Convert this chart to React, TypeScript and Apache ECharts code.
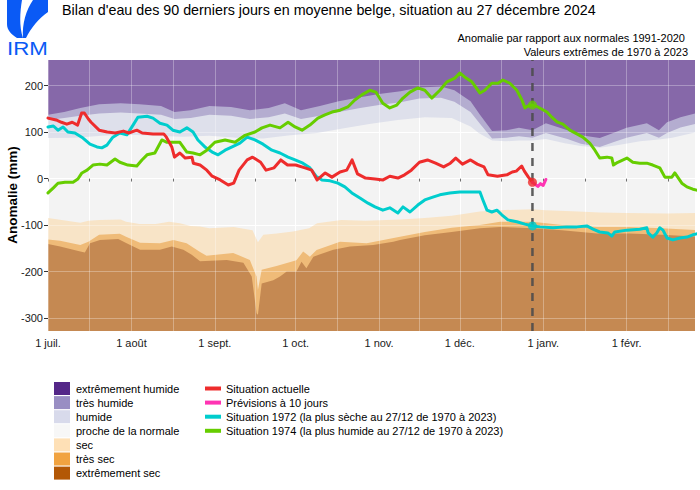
import React, { useEffect, useRef } from "react";
import * as echarts from "echarts";

// ---------- axes ----------
const monthStartDays = [0, 31, 62, 92, 123, 153, 184, 215];
const monthLabels = ["1 juil.", "1 août", "1 sept.", "1 oct.", "1 nov.", "1 déc.", "1 janv.", "1 févr."];
const midMonthDays = [15.5, 46.5, 77, 107.5, 138, 168.5, 199.5, 230.5];
const yTickValues = [-300, -200, -100, 0, 100, 200];
const xMin = 0;
const xMax = 240.4;
const yMin = -328;
const yMax = 255;
const todayDay = 180;

// ---------- climatological bands (limits, mm) ----------
const bandLabels = ["extrêmement humide", "très humide", "humide", "proche de la normale", "sec", "très sec", "extrêmement sec"];
const bandColors = ["#542788", "#998ec3", "#d8daeb", "#f7f7f7", "#fee0b6", "#f1a340", "#b35806"];

const wetLimitDays = [0, 6, 12, 19, 27, 34, 42, 47, 53, 60, 68, 75, 82, 88, 94, 101, 108, 116, 123, 131, 138, 146, 151, 157, 160.5, 165, 170.5, 175, 180, 185, 193, 198, 205, 210, 215, 222.5, 227, 230, 235, 241];
const extremeWetFloor = [137, 143, 152, 160, 162, 160, 156, 143, 147, 156, 154, 147, 152, 162, 147, 156, 166, 175, 182, 188, 196, 198, 190, 166, 137, 102, 104, 109, 104, 119, 104, 93, 87, 98, 109, 119, 104, 121, 132, 141];
const veryWetFloor = [126, 130, 135, 140, 142, 140, 137, 128, 130, 137, 135, 128, 132, 140, 128, 135, 143, 152, 158, 164, 172, 174, 165, 143, 118, 86, 88, 91, 88, 98, 85, 75, 68, 78, 88, 98, 88, 98, 110, 118];

const wetFloorDays = [0, 10, 20, 30, 40, 50, 60, 70, 80, 90, 100, 110, 120, 130, 140, 150, 157, 160, 165, 170, 175, 180, 185, 192, 198, 205, 212, 220, 227, 232, 241];
const wetFloor = [87, 88, 92, 94, 92, 90, 92, 88, 86, 93, 98, 108, 118, 126, 132, 130, 112, 98, 82, 80, 82, 82, 85, 76, 70, 66, 72, 80, 84, 88, 100];

const dryCeilingDays = [0, 7, 12, 15, 19, 27, 29, 34, 40, 45, 49, 53, 56.5, 60, 69, 76, 78, 80, 85, 91, 97, 100, 109, 118, 131, 140, 150, 160.5, 168, 180, 185, 197, 205, 215, 230, 241];
const dryCeiling = [-85, -91, -95, -91, -89, -88, -93, -98, -98, -93, -96, -102, -103, -107, -104, -111, -137, -121, -118, -114, -107, -96, -89, -91, -88, -85, -80, -71, -68, -66, -68, -71, -73, -74, -75, -74];

const veryDryCeilingDays = [0, 4.5, 12, 15, 19, 26.7, 29.2, 34.2, 41.6, 46.6, 51.5, 56.5, 58.9, 68.8, 75, 77.5, 78, 79.4, 84.9, 92.3, 94.8, 97.3, 99.8, 108.5, 118.4, 130.8, 140, 150, 160.5, 168, 180, 191, 204, 216, 228, 241];
const veryDryCeiling = [-131, -134, -143, -136, -121, -119, -126, -138, -139, -132, -139, -158, -166, -160, -175, -211, -240, -196, -188, -176, -157, -168, -154, -136, -139, -125, -115, -106, -100, -93, -93, -100, -104, -104, -107, -111];

const extremeDryCeilingDays = [0, 4.5, 12, 13.7, 15.6, 19.3, 26.1, 29.2, 34.2, 41.6, 46, 50.3, 53.4, 56.5, 66.4, 72.6, 75.7, 77.5, 78, 79.4, 83.7, 86.2, 88.7, 92.3, 94.2, 96, 98.6, 106, 112.2, 120.8, 128.3, 130.8, 140, 150, 160.5, 168, 180, 191, 204, 216, 228, 241];
const extremeDryCeiling = [-141, -146, -157, -159, -139, -132, -130, -139, -153, -153, -146, -153, -164, -178, -175, -181, -211, -290, -293, -226, -219, -211, -200, -200, -179, -193, -168, -153, -146, -143, -136, -132, -122, -115, -107, -104, -107, -111, -118, -118, -121, -125];

// ---------- lines ----------
const lineLabels = ["Situation actuelle", "Prévisions à 10 jours", "Situation 1972 (la plus sèche au 27/12 de 1970 à 2023)", "Situation 1974 (la plus humide au 27/12 de 1970 à 2023)"];
const lineColors = ["#EE2C2C", "#FF34B3", "#00CDCD", "#66CD00"];

const currentDays = [0, 3, 5, 7, 9, 11, 12.5, 13.5, 15, 16, 19, 22, 25, 28, 30, 33, 35, 39, 43, 44, 46, 47, 49, 51, 53.5, 54, 56.5, 59, 61, 64, 67, 69, 71, 74, 76, 79, 81, 84, 86.5, 89, 92, 95.5, 98, 100, 103, 105.5, 108.5, 111, 113, 115, 118, 121.5, 124.5, 127, 130, 132.5, 135, 138, 141, 144, 147, 149.5, 151.5, 154, 157, 159.5, 162, 163.5, 167, 170.5, 172.5, 174, 176, 177, 178.5, 180];
const currentValues = [130, 126, 121, 117, 121, 115, 141, 141, 128, 121, 104, 100, 98, 102, 98, 104, 98, 96, 96, 89, 68, 46, 55, 44, 46, 33, 29, 18, 5, -3, -14, -10, 18, 40, 46, 35, 18, 23, 40, 29, 29, 23, 18, -3, 12, 3, 14, 18, 40, 10, 1, -1, -3, 5, 1, 8, 18, 35, 40, 33, 25, 33, 44, 31, 40, 31, 25, 8, 5, 8, 14, 16, 27, 16, 3, -8];

const forecastDays = [180, 182, 183, 184, 185];
const forecastValues = [-8, -17, -11, -15, -2];

const dry1972Days = [0, 2, 3.7, 5.6, 7.4, 10, 13, 15.6, 18.2, 20, 21.9, 24.1, 26.7, 29.3, 31.6, 33.4, 36.8, 39, 41.6, 44.2, 46.4, 49, 51.6, 53.9, 55.7, 58.3, 61, 63.2, 65.8, 68.4, 71.3, 74, 76.9, 79.9, 83.2, 86.2, 89.2, 91.8, 94.7, 97.3, 99.6, 101.8, 104.8, 107.7, 110.3, 112.9, 115.9, 118.9, 121.5, 124.4, 127, 130, 131.9, 134.5, 137.4, 140, 143, 145.6, 149.3, 153, 156.8, 160.5, 161.6, 163.1, 164.9, 166.8, 168.6, 170.9, 174.2, 177.2, 180, 182.8, 187.6, 192.8, 196.5, 200.2, 202.5, 205, 208, 209.5, 210.6, 215.1, 219.9, 222.5, 223, 224.7, 226.2, 227.3, 228.5, 230, 232.2, 234.8, 237.4, 239.6, 241];
const dry1972Values = [111, 113, 104, 111, 100, 98, 87, 74, 68, 66, 72, 89, 98, 94, 115, 132, 134, 130, 119, 115, 104, 100, 109, 100, 83, 68, 57, 51, 61, 68, 76, 89, 83, 74, 61, 55, 46, 40, 33, 23, 5, -3, -5, -10, -18, -31, -42, -53, -61, -68, -63, -74, -61, -72, -57, -46, -40, -35, -31, -29, -29, -29, -46, -68, -72, -68, -78, -89, -93, -98, -102, -104, -106, -104, -104, -102, -109, -115, -117, -124, -115, -111, -109, -106, -117, -126, -117, -106, -111, -128, -132, -128, -126, -121, -119];

const wet1974Days = [0, 2, 3.7, 6.3, 9.3, 11.1, 12.6, 14.5, 16.7, 19.3, 21.9, 24.9, 26.7, 29.7, 33, 34.9, 36.8, 39.7, 42.3, 44.2, 46.4, 49, 51.6, 53.9, 56.5, 59, 62, 65.8, 69.5, 73.2, 76.9, 79.5, 82.5, 86.2, 89.2, 91.8, 94.4, 97.3, 100.3, 102.9, 105.5, 108.5, 111.4, 114, 116.6, 119.6, 121.8, 124.4, 127, 129.6, 131.9, 134.5, 137.4, 140, 142.6, 145.6, 148.2, 151.2, 153, 154.9, 157.5, 160.5, 162.3, 164.9, 167.2, 169, 171.6, 174.2, 176.1, 177.2, 178.3, 180, 182, 185.4, 187.2, 189.1, 191.3, 193.9, 196.5, 198.7, 201.3, 203.2, 205, 207.7, 209.5, 210.1, 211.7, 215.1, 217.3, 219.9, 222.5, 224.7, 227.3, 229.2, 231.8, 232.9, 235.5, 237.4, 239.6, 241];
const wet1974Values = [-31, -20, -10, -8, -8, -1, 12, 18, 29, 31, 29, 42, 35, 29, 27, 40, 51, 55, 83, 78, 78, 78, 57, 55, 51, 61, 78, 83, 78, 93, 100, 109, 115, 109, 121, 111, 104, 115, 130, 137, 143, 147, 154, 169, 180, 190, 186, 162, 152, 158, 173, 186, 195, 190, 173, 190, 208, 216, 227, 218, 208, 184, 190, 205, 205, 212, 205, 190, 169, 152, 156, 158, 154, 143, 132, 122, 117, 104, 96, 89, 76, 61, 44, 46, 44, 29, 35, 44, 35, 33, 33, 29, 23, 3, 3, 12, -10, -18, -23, -25];

// ---------- texts ----------
const titleText = "Bilan d'eau des 90 derniers jours en moyenne belge, situation au 27 décembre 2024";
const subtitle1 = "Anomalie par rapport aux normales 1991-2020";
const subtitle2 = "Valeurs extrêmes de 1970 à 2023";
const yAxisTitle = "Anomalie (mm)";
const logoText = "IRM";

const FONT = "'Liberation Sans', Arial, Helvetica, sans-serif";
const PANEL = "#ebebeb";
const BAND_ALPHA = 0.67;
const LOGO_BLUE = "#0a5af5";

function blend(hex: string, alpha: number, bg: string): string {
  const p = (h: string) => [1, 3, 5].map((i) => parseInt(h.slice(i, i + 2), 16));
  const a = p(hex);
  const b = p(bg);
  const c = a.map((v, i) => Math.round(v * alpha + b[i] * (1 - alpha)));
  return "#" + c.map((v) => v.toString(16).padStart(2, "0")).join("");
}

const pairs = (d: number[], v: number[]) => d.map((x, i) => [x, v[i]]);
const valueAt = (d: number[], v: number[], day: number) => v[d.indexOf(day)];

export default function App() {
  const ref = useRef<HTMLDivElement>(null);

  useEffect(() => {
    if (!ref.current) return;
    echarts.graphic.registerShape(
      "irmLeft",
      echarts.graphic.extendPath("M0,0 L15,0 C13,12 12,26 16,38 L10,38 C4,34 0,30 0,24 Z", {})
    );
    echarts.graphic.registerShape(
      "irmRight",
      echarts.graphic.extendPath("M26,0 L41,0 L41,12 C32,18 24,28 19,38 L16,38 C15,24 19,10 26,0 Z", {})
    );

    const chart = echarts.init(ref.current, null, { renderer: "svg" });

    const bandFill = bandColors.map((c) => blend(c, BAND_ALPHA, PANEL));
    const bandSeries = (name: string, data: number[][], color: string, origin: "start" | "end", z: number) => ({
      type: "line",
      name,
      data,
      symbol: "none",
      silent: true,
      lineStyle: { width: 0 },
      areaStyle: { color, opacity: 1, origin },
      z,
      xAxisIndex: 0,
      yAxisIndex: 0,
    });

    const lineSeries = (name: string, data: number[][], color: string) => ({
      type: "line",
      name,
      data,
      symbol: "none",
      silent: true,
      lineStyle: { width: 3, color, cap: "round", join: "round" },
      z: 6,
    });

    const dots = [
      { value: [todayDay, valueAt(currentDays, currentValues, todayDay)], itemStyle: { color: lineColors[0] } },
      { value: [todayDay, valueAt(dry1972Days, dry1972Values, todayDay)], itemStyle: { color: lineColors[2] } },
      { value: [todayDay, valueAt(wet1974Days, wet1974Values, todayDay)], itemStyle: { color: lineColors[3] } },
    ];

    const legendGraphics: any[] = [];
    bandLabels.forEach((lab, i) => {
      legendGraphics.push({
        type: "rect",
        shape: { x: 54, y: 382 + i * 14.1, width: 16, height: 13 },
        style: { fill: bandColors[i] },
      });
      legendGraphics.push({
        type: "text",
        x: 76,
        y: 388.5 + i * 14.1,
        style: { text: lab, font: `11px ${FONT}`, fill: "#000", textVerticalAlign: "middle" },
      });
    });
    lineLabels.forEach((lab, i) => {
      legendGraphics.push({
        type: "rect",
        shape: { x: 205, y: 386.5 + i * 14.1, width: 16, height: 4 },
        style: { fill: lineColors[i] },
      });
      legendGraphics.push({
        type: "text",
        x: 226,
        y: 388.5 + i * 14.1,
        style: { text: lab, font: `11px ${FONT}`, fill: "#000", textVerticalAlign: "middle" },
      });
    });

    const gridRect = { left: 48, top: 60, width: 647, height: 271 };
    const xTickAll = [...monthStartDays, ...midMonthDays].sort((a, b) => a - b);

    chart.setOption({
      animation: false,
      backgroundColor: "#ffffff",
      textStyle: { fontFamily: FONT },
      grid: [
        { ...gridRect, show: true, backgroundColor: blend(bandColors[3], BAND_ALPHA, PANEL), borderWidth: 0 },
        { ...gridRect, show: false },
      ],
      xAxis: [
        {
          type: "value",
          gridIndex: 0,
          min: xMin,
          max: xMax,
          axisLine: { show: false },
          axisTick: { show: true, length: 3, customValues: xTickAll, lineStyle: { color: "#333", width: 1 } },
          axisLabel: {
            customValues: monthStartDays,
            formatter: (v: number) => monthLabels[monthStartDays.indexOf(v)] ?? "",
            color: "#1a1a1a",
            fontSize: 11,
            margin: 6,
            fontFamily: FONT,
          },
          splitLine: { show: true, lineStyle: { color: "#ffffff", width: 1 } },
          z: 0,
        },
        {
          type: "value",
          gridIndex: 1,
          min: xMin,
          max: xMax,
          axisLine: { show: false },
          axisTick: { show: false, customValues: xTickAll },
          axisLabel: { show: false },
          splitLine: { show: true, lineStyle: { color: "#ffffff", width: 1, opacity: 0.3 } },
          z: 4,
        },
      ],
      yAxis: [
        {
          type: "value",
          gridIndex: 0,
          min: yMin,
          max: yMax,
          axisLine: { show: false },
          axisTick: { show: true, length: 4, customValues: yTickValues, lineStyle: { color: "#333", width: 1 } },
          axisLabel: { customValues: yTickValues, color: "#1a1a1a", fontSize: 11, margin: 5, fontFamily: FONT },
          splitLine: { show: true, lineStyle: { color: "#ffffff", width: 1 } },
          z: 0,
        },
        {
          type: "value",
          gridIndex: 1,
          min: yMin,
          max: yMax,
          axisLine: { show: false },
          axisTick: { show: false, customValues: yTickValues },
          axisLabel: { show: false },
          splitLine: { show: true, lineStyle: { color: "#ffffff", width: 1, opacity: 0.3 } },
          z: 4,
        },
      ],
      series: [
        bandSeries(bandLabels[2], pairs(wetFloorDays, wetFloor), bandFill[2], "end", 1),
        bandSeries(bandLabels[1], pairs(wetLimitDays, veryWetFloor), bandFill[1], "end", 2),
        bandSeries(bandLabels[0], pairs(wetLimitDays, extremeWetFloor), bandFill[0], "end", 3),
        bandSeries(bandLabels[4], pairs(dryCeilingDays, dryCeiling), bandFill[4], "start", 1),
        bandSeries(bandLabels[5], pairs(veryDryCeilingDays, veryDryCeiling), bandFill[5], "start", 2),
        bandSeries(bandLabels[6], pairs(extremeDryCeilingDays, extremeDryCeiling), bandFill[6], "start", 3),
        {
          type: "line",
          name: "today",
          data: [
            [todayDay, yMin],
            [todayDay, yMax],
          ],
          symbol: "none",
          silent: true,
          lineStyle: { width: 2.5, color: "#4d4d4d", type: [8, 7], opacity: 0.9 },
          z: 5,
        },
        lineSeries(lineLabels[2], pairs(dry1972Days, dry1972Values), lineColors[2]),
        lineSeries(lineLabels[3], pairs(wet1974Days, wet1974Values), lineColors[3]),
        lineSeries(lineLabels[0], pairs(currentDays, currentValues), lineColors[0]),
        lineSeries(lineLabels[1], pairs(forecastDays, forecastValues), lineColors[1]),
        {
          type: "scatter",
          name: "dots",
          data: dots,
          symbolSize: 9,
          silent: true,
          z: 7,
        },
      ],
      graphic: [
        {
          type: "text",
          x: 62,
          y: 10,
          style: { text: titleText, font: `14.3px ${FONT}`, fill: "#000", textVerticalAlign: "middle" },
        },
        {
          type: "text",
          x: 685,
          y: 38,
          style: { text: subtitle1, font: `11px ${FONT}`, fill: "#000", textAlign: "right", textVerticalAlign: "middle" },
        },
        {
          type: "text",
          x: 688,
          y: 52,
          style: { text: subtitle2, font: `11px ${FONT}`, fill: "#000", textAlign: "right", textVerticalAlign: "middle" },
        },
        {
          type: "text",
          x: 12,
          y: 195,
          rotation: Math.PI / 2,
          style: { text: yAxisTitle, font: `bold 13.5px ${FONT}`, fill: "#000", textAlign: "center", textVerticalAlign: "middle" },
        },
        { type: "irmLeft", x: 7, y: 0, style: { fill: LOGO_BLUE } },
        { type: "irmRight", x: 7, y: 0, style: { fill: LOGO_BLUE } },
        {
          type: "text",
          x: 7,
          y: 48.5,
          scaleX: 1.24,
          style: { text: logoText, font: `18px ${FONT}`, fill: LOGO_BLUE, textVerticalAlign: "middle" },
        },
        ...legendGraphics,
      ],
    });

    return () => chart.dispose();
  }, []);

  return (
    <div
      ref={ref}
      style={{ position: "fixed", left: 0, top: 0, width: 700, height: 490, background: "#fff" }}
    />
  );
}
